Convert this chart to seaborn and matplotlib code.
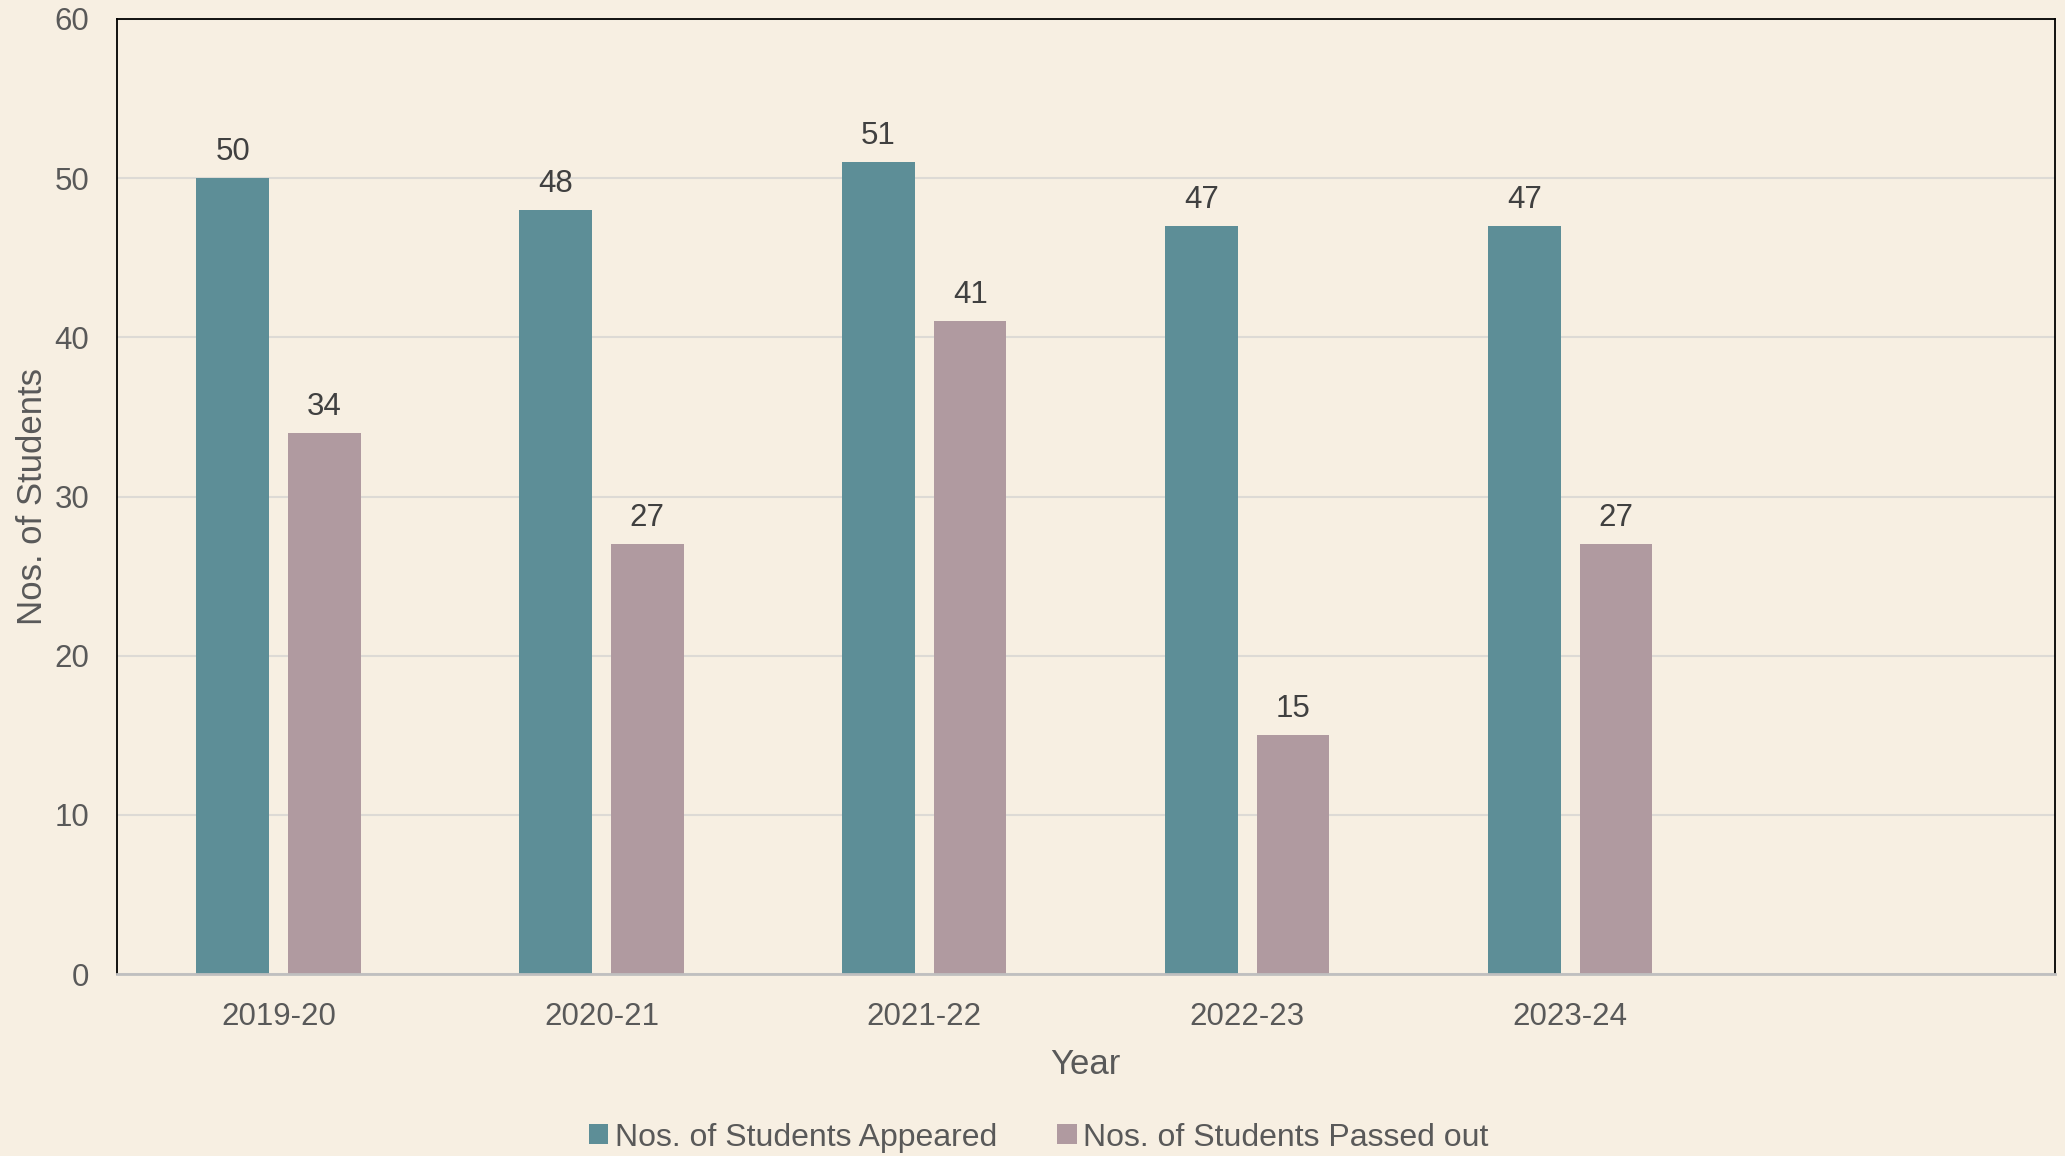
import pandas as pd
import matplotlib.pyplot as plt
import seaborn as sns

# Datos
years = ["2019-20", "2020-21", "2021-22", "2022-23", "2023-24"]
appeared = [50, 48, 51, 47, 47]
passed_out = [34, 27, 41, 15, 27]
series = ["Nos. of Students Appeared", "Nos. of Students Passed out"]
colores = ["#5D8E97", "#B09AA0"]

df = pd.DataFrame({
    "Year": years * 2,
    "Students": appeared + passed_out,
    "Serie": [series[0]] * len(years) + [series[1]] * len(years),
})

sns.set_style("white")
plt.rcParams["font.family"] = ["Liberation Sans", "DejaVu Sans"]

bg = "#F7EFE2"
fig = plt.figure(figsize=(20.65, 11.56), dpi=100, facecolor=bg)
ax = fig.add_axes([0.0567, 0.1574, 0.9383, 0.8262])
ax.set_facecolor(bg)

# un hueco vacio al final del eje x
orden = years + [" "]
sns.barplot(data=df, x="Year", y="Students", hue="Serie", order=orden,
            palette=colores, saturation=1, width=0.568, gap=0.21, ax=ax,
            legend=True, edgecolor="none", linewidth=0)

for cont in ax.containers:
    ax.bar_label(cont, fontsize=22.5, color="#404040", padding=8)

ax.set_xlim(-0.5, 5.5)
ax.set_ylim(0, 60)
ax.set_yticks(range(0, 61, 10))
ax.yaxis.grid(True, color="#DDDAD5", linewidth=1.5)
ax.set_axisbelow(True)
ax.tick_params(axis="y", length=0, pad=20, labelsize=22.5, labelcolor="#595959")
ax.tick_params(axis="x", length=0, pad=20, labelsize=22.5, labelcolor="#595959")

ax.set_ylabel("Nos. of Students", fontsize=25, color="#595959", labelpad=4)
ax.set_xlabel("Year", fontsize=25, color="#595959", labelpad=12)

for lado in ["left", "top", "right"]:
    ax.spines[lado].set_color("black")
    ax.spines[lado].set_linewidth(1.3)
ax.spines["bottom"].set_color("#BFBFBF")
ax.spines["bottom"].set_linewidth(2)

# leyenda abajo
handles, labels = ax.get_legend_handles_labels()
ax.get_legend().remove()
fig.legend(handles, labels, loc="center", bbox_to_anchor=(0.503, 0.016),
           ncol=2, frameon=False, fontsize=23, labelcolor="#595959",
           handlelength=0.6, handleheight=0.6, handletextpad=0.2,
           columnspacing=1.9)

fig.savefig("out.png", dpi=100, facecolor=bg)
